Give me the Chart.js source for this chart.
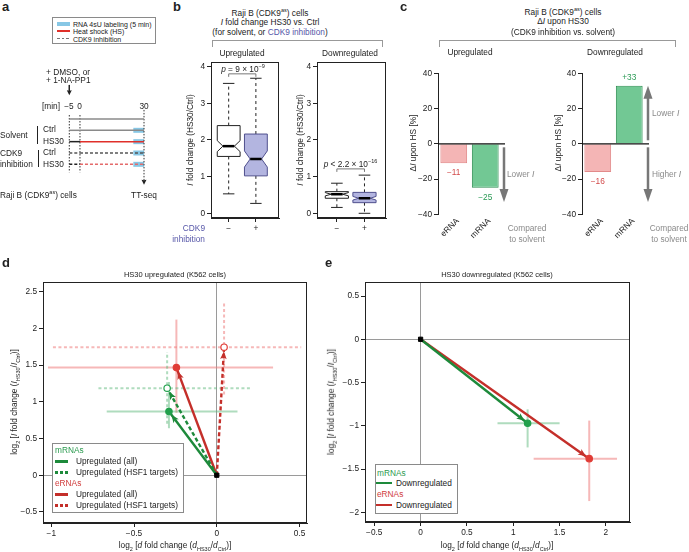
<!DOCTYPE html>
<html>
<head>
<meta charset="utf-8">
<title>HS30 CDK9 inhibition figure</title>
<script src="https://cdn.jsdelivr.net/npm/chart.js@4.4.1/dist/chart.umd.min.js"></script>
<style>
  html, body { margin: 0; padding: 0; background: #fff; }
  body { width: 689px; height: 552px; position: relative; overflow: hidden;
         font-family: "Liberation Sans", Arial, sans-serif; font-size: 8.3px; color: #222; }
  canvas { position: absolute; }
  .t { position: absolute; white-space: nowrap; line-height: 1; }
  .c { transform: translate(-50%, -50%); }
  .l { transform: translateY(-50%); }
  .r { transform: translate(-50%, -50%) rotate(-90deg); }
  .big { font-weight: bold; font-size: 13px; }
  .sm { font-size: 7.5px; }
  .xs { font-size: 7px; }
  .gray { color: #8a8a8a; }
  .blue { color: #5656a8; }
  .grn { color: #2a9a4e; }
  .red { color: #d03b3b; }
  sub, sup { font-size: 5.5px; line-height: 0; }
  .box { position: absolute; border: 1px solid #8a8a8a; background: #fff; }
  .brk { position: absolute; border: 1px solid #999; border-bottom: none; }
  .vbar { position: absolute; border-left: 1px solid #222; }
  .sw { position: absolute; }
</style>
</head>
<body>
<canvas id="cA" width="100" height="120" style="left:60px;top:75px"></canvas>
<canvas id="cB1" width="110" height="195" style="left:175px;top:55px"></canvas>
<canvas id="cB2" width="110" height="195" style="left:281px;top:55px"></canvas>
<canvas id="cC1" width="120" height="190" style="left:400px;top:60px"></canvas>
<canvas id="cC2" width="121" height="190" style="left:544px;top:60px"></canvas>
<canvas id="cD" width="320" height="290" style="left:0px;top:262px"></canvas>
<canvas id="cE" width="330" height="290" style="left:322px;top:262px"></canvas>

<!-- panel a -->
<div class="t big" style="left:2px;top:0px">a</div>
<div class="box" style="left:52px;top:17px;width:102px;height:25px"></div>
<div class="sw" style="left:57px;top:21.5px;width:13px;height:4px;background:rgba(95,180,220,0.75)"></div>
<div class="t l xs" style="left:73px;top:23.5px">RNA 4sU labeling (5 min)</div>
<div class="sw" style="left:57px;top:30.3px;width:13px;height:1.5px;background:#e0302a"></div>
<div class="t l xs" style="left:73px;top:31px">Heat shock (HS)</div>
<div class="sw" style="left:57px;top:37.8px;width:13px;height:1.2px;background:repeating-linear-gradient(to right,#777 0 2.5px,transparent 2.5px 4.5px)"></div>
<div class="t l xs" style="left:73px;top:38.5px">CDK9 inhibition</div>
<div class="t l" style="left:46px;top:72px">+ DMSO, or</div>
<div class="t l" style="left:46px;top:79.5px">+ 1-NA-PP1</div>
<div class="t l" style="left:42px;top:105.5px">[min]</div>
<div class="t c" style="left:69px;top:105.5px">−5</div>
<div class="t c" style="left:79.5px;top:105.5px">0</div>
<div class="t c" style="left:144px;top:105.5px">30</div>
<div class="t l" style="left:0px;top:135px">Solvent</div>
<div class="vbar" style="left:37px;top:126px;height:18px"></div>
<div class="t l" style="left:43px;top:129.3px">Ctrl</div>
<div class="t l" style="left:43px;top:140.7px">HS30</div>
<div class="t l" style="left:0px;top:152.5px">CDK9</div>
<div class="t l" style="left:0px;top:164px">inhibition</div>
<div class="vbar" style="left:37.5px;top:150px;height:17px"></div>
<div class="t l" style="left:43px;top:152.3px">Ctrl</div>
<div class="t l" style="left:43px;top:164.3px">HS30</div>
<div class="t l" style="left:0px;top:195px">Raji B (CDK9<sup>as</sup>) cells</div>
<div class="t c" style="left:144px;top:195px">TT-seq</div>

<!-- panel b -->
<div class="t big" style="left:173px;top:0px">b</div>
<div class="t c" style="left:270px;top:13px">Raji B (CDK9<sup>as</sup>) cells</div>
<div class="t c" style="left:270px;top:22.3px"><i>I</i> fold change HS30 vs. Ctrl</div>
<div class="t c" style="left:270px;top:31.5px">(for solvent, or <span class="blue">CDK9 inhibition</span>)</div>
<div class="brk" style="left:212px;top:40px;width:169px;height:6px"></div>
<div class="t c" style="left:242px;top:52.7px">Upregulated</div>
<div class="t c" style="left:350px;top:52.7px">Downregulated</div>
<div class="t r" style="left:190px;top:140px"><i>I</i> fold change (HS30/Ctrl)</div>
<div class="t r" style="left:300px;top:140px"><i>I</i> fold change (HS30/Ctrl)</div>
<div class="t c" style="left:243px;top:68.5px"><i>p</i> = 9 × 10<sup>−9</sup></div>
<div class="t c" style="left:350.5px;top:163.5px"><i>p</i> &lt; 2.2 × 10<sup>−16</sup></div>
<div class="t blue" style="left:205px;top:228px;transform:translate(-100%,-50%)">CDK9</div>
<div class="t blue" style="left:205px;top:238.5px;transform:translate(-100%,-50%)">inhibition</div>

<!-- panel c -->
<div class="t big" style="left:400px;top:0px">c</div>
<div class="t c" style="left:563px;top:12px">Raji B (CDK9<sup>as</sup>) cells</div>
<div class="t c" style="left:563px;top:21px">Δ<i>I</i> upon HS30</div>
<div class="t c" style="left:563px;top:31.5px">(CDK9 inhibition vs. solvent)</div>
<div class="brk" style="left:439px;top:40px;width:235px;height:6px"></div>
<div class="t c" style="left:470px;top:52.3px">Upregulated</div>
<div class="t c" style="left:615px;top:52.3px">Downregulated</div>
<div class="t r" style="left:413.3px;top:142.5px">Δ<i>I</i> upon HS [%]</div>
<div class="t r" style="left:558.3px;top:142.5px">Δ<i>I</i> upon HS [%]</div>
<div class="t l gray" style="left:507px;top:174px">Lower <i>I</i></div>
<div class="t c gray" style="left:527px;top:228px">Compared</div>
<div class="t c gray" style="left:527px;top:238.7px">to solvent</div>
<div class="t l gray" style="left:652px;top:112.5px">Lower <i>I</i></div>
<div class="t l gray" style="left:652px;top:174.3px">Higher <i>I</i></div>
<div class="t c gray" style="left:669px;top:228px">Compared</div>
<div class="t c gray" style="left:669px;top:238.7px">to solvent</div>

<!-- panel d -->
<div class="t big" style="left:2px;top:256px">d</div>
<div class="t c sm" style="left:175px;top:275px">HS30 upregulated (K562 cells)</div>
<div class="t c" style="left:175px;top:545px">log<sub>2</sub> [<i>d</i> fold change (<i>d</i><sub>HS30</sub>/<i>d</i><sub>Ctrl</sub>)]</div>
<div class="t r" style="left:14px;top:402px">log<sub>2</sub> [<i>I</i> fold change (<i>I</i><sub>HS30</sub>/<i>I</i><sub>Ctrl</sub>)]</div>
<div class="box" style="left:52px;top:443px;width:130px;height:68px"></div>
<div class="t l grn" style="left:55px;top:450px">mRNAs</div>
<div class="sw" style="left:55px;top:460px;width:13px;height:2.5px;background:#1d8a3b"></div>
<div class="t l" style="left:76px;top:461px">Upregulated (all)</div>
<div class="sw" style="left:55px;top:471px;width:13px;height:2.5px;background:repeating-linear-gradient(to right,#1d8a3b 0 3px,transparent 3px 5px)"></div>
<div class="t l" style="left:76px;top:472px">Upregulated (HSF1 targets)</div>
<div class="t l red" style="left:55px;top:483px">eRNAs</div>
<div class="sw" style="left:55px;top:493px;width:13px;height:2.5px;background:#c42f2a"></div>
<div class="t l" style="left:76px;top:494px">Upregulated (all)</div>
<div class="sw" style="left:55px;top:504px;width:13px;height:2.5px;background:repeating-linear-gradient(to right,#c42f2a 0 3px,transparent 3px 5px)"></div>
<div class="t l" style="left:76px;top:505px">Upregulated (HSF1 targets)</div>

<!-- panel e -->
<div class="t big" style="left:325px;top:256px">e</div>
<div class="t c sm" style="left:497px;top:275px">HS30 downregulated (K562 cells)</div>
<div class="t c" style="left:497px;top:545px">log<sub>2</sub> [<i>d</i> fold change (<i>d</i><sub>HS30</sub>/<i>d</i><sub>Ctrl</sub>)]</div>
<div class="t r" style="left:331px;top:402px">log<sub>2</sub> [<i>I</i> fold change (<i>I</i><sub>HS30</sub>/<i>I</i><sub>Ctrl</sub>)]</div>
<div class="box" style="left:375px;top:464px;width:81px;height:48px"></div>
<div class="t l grn" style="left:377px;top:472.5px">mRNAs</div>
<div class="sw" style="left:376px;top:481.5px;width:16px;height:2.5px;background:#1d8a3b"></div>
<div class="t l" style="left:396px;top:482.7px">Downregulated</div>
<div class="t l red" style="left:377px;top:494px">eRNAs</div>
<div class="sw" style="left:376px;top:503.8px;width:16px;height:2.5px;background:#c42f2a"></div>
<div class="t l" style="left:396px;top:505px">Downregulated</div>

<script>
// ---------- data ----------
// a: experimental scheme, time in minutes, rows top to bottom
const schemeTimes = [-5, 0, 30];
const labelWindow = [25, 30];
const schemeRows = [0, 1, 2, 3, 4];
const rowHeat = [false, false, true, false, true];
const rowInhib = [false, false, false, true, true];
const rowLabeled = [false, true, true, true, true];

// b: I fold change HS30/Ctrl  [solvent, CDK9 inhibition]
const boxGroups = ['−', '+'];
const boxTicks = [0, 1, 2, 3, 4];
const upMedian = [1.83, 1.48];
const upQ1 = [1.55, 1.02];
const upQ3 = [2.39, 2.16];
const upWhiskLo = [0.53, 0.27];
const upWhiskHi = [3.54, 3.68];
const upNotch = [0.15, 0.22];
const downMedian = [0.52, 0.41];
const downQ1 = [0.41, 0.29];
const downQ3 = [0.59, 0.57];
const downWhiskLo = [0.16, 0.0];
const downWhiskHi = [0.82, 1.04];
const downNotch = [0.045, 0.05];
const pBracketUp = 3.8;
const pBracketDown = 1.21;

// c: delta I upon HS [%]
const rnaTypes = ['eRNA', 'mRNA'];
const deltaUp = [-11, -25];
const deltaDown = [-16, 33];
const deltaTicks = [-40, -20, 0, 20, 40];

// d: HS30 upregulated, [mRNA all, mRNA HSF1, eRNA all, eRNA HSF1]
const upKind = ['m', 'm', 'e', 'e'];
const upDashed = [false, true, false, true];
const upDx = [-0.289, -0.30, -0.244, 0.044];
const upIy = [0.867, 1.185, 1.466, 1.744];
const upDxLo = [-0.665, -0.715, -1.02, -0.99];
const upDxHi = [0.125, 0.20, 0.34, 0.51];
const upIyLo = [0.64, 0.70, 0.85, 1.10];
const upIyHi = [1.27, 1.68, 2.12, 2.34];
const dTicksX = [-1, -0.5, 0, 0.5];
const dTicksY = [-0.5, 0, 0.5, 1, 1.5, 2, 2.5];

// e: HS30 downregulated, [mRNA, eRNA]
const downKind = ['m', 'e'];
const downDashed = [false, false];
const downDx = [1.155, 1.82];
const downIy = [-0.97, -1.38];
const downDxLo = [0.83, 1.22];
const downDxHi = [1.50, 2.12];
const downIyLo = [-1.25, -1.87];
const downIyHi = [-0.81, -0.94];
const eTicksX = [-0.5, 0, 0.5, 1, 1.5, 2];
const eTicksY = [-2, -1.5, -1, -0.5, 0, 0.5];

// ---------- styling ----------
Chart.defaults.font.family = '"Liberation Sans", Arial, sans-serif';
Chart.defaults.font.size = 8.3;
Chart.defaults.color = '#222';
Chart.defaults.animation = false;

const GREEN = { arrow: '#1d8a3b', dot: '#22a04c', err: 'rgba(95,185,125,0.5)' };
const RED = { arrow: '#c42f2a', dot: '#e03c36', err: 'rgba(238,125,125,0.55)' };
const fmt = v => String(v).replace('-', '−');
const noPlug = { legend: { display: false }, tooltip: { enabled: false } };

function head(ctx, x0, y0, x1, y1, len, half, back, color) {
  const L = Math.hypot(x1 - x0, y1 - y0);
  const ux = (x1 - x0) / L, uy = (y1 - y0) / L, nx = -uy, ny = ux;
  const bx = x1 - ux * len, by = y1 - uy * len;
  ctx.fillStyle = color;
  ctx.beginPath();
  ctx.moveTo(x1, y1);
  ctx.lineTo(bx + nx * half, by + ny * half);
  ctx.lineTo(x1 - ux * (len - back), y1 - uy * (len - back));
  ctx.lineTo(bx - nx * half, by - ny * half);
  ctx.closePath();
  ctx.fill();
}

const framePlugin = {
  id: 'frame',
  afterDatasetsDraw(chart) {
    const { ctx, chartArea: a } = chart;
    ctx.save();
    ctx.strokeStyle = '#222';
    ctx.lineWidth = 1;
    ctx.strokeRect(Math.round(a.left) + 0.5, Math.round(a.top) + 0.5,
      Math.round(a.width) - 1, Math.round(a.height) - 1);
    ctx.restore();
  }
};

function linAxis(min, max, ticks, size, horizontal, zero, labels) {
  return {
    type: 'linear', min, max,
    afterFit: s => { if (horizontal) s.height = size; else s.width = size; },
    afterBuildTicks: s => { s.ticks = ticks.map(v => ({ value: v })); },
    grid: {
      drawOnChartArea: !!zero,
      color: c => (zero && c.tick && c.tick.value === 0) ? '#9a9a9a' : 'rgba(0,0,0,0)',
      tickColor: '#222', tickLength: 4, lineWidth: 1
    },
    border: { display: true, color: '#222' },
    ticks: {
      callback: (v, i) => labels ? labels[i] : fmt(v),
      padding: 2, color: '#222', maxRotation: 0, autoSkip: false
    }
  };
}

// ---------- a: scheme ----------
(function () {
  const sets = [];
  schemeRows.forEach((r, i) => {
    if (rowLabeled[i]) {
      sets.push({ data: [{ x: labelWindow[0], y: r }, { x: labelWindow[1], y: r }],
        borderColor: 'rgba(95,180,220,0.75)', borderWidth: 5, order: 5 });
    }
    const dash = rowInhib[i] ? [3, 2] : [];
    sets.push({ data: [{ x: schemeTimes[0], y: r }, { x: schemeTimes[1], y: r }],
      borderColor: rowHeat[i] ? '#222' : (rowInhib[i] ? '#555' : '#8a8a8a'),
      borderWidth: 1.5, borderDash: dash, order: 1 });
    sets.push({ data: [{ x: schemeTimes[1], y: r }, { x: schemeTimes[2], y: r }],
      borderColor: rowHeat[i] ? (rowInhib[i] ? '#e46a6a' : '#e0302a') : (rowInhib[i] ? '#555' : '#8a8a8a'),
      borderWidth: 1.5, borderDash: dash, order: 1 });
  });
  // vertical guides at -5 and 0, TT-seq arrow at 30, treatment arrow at -5
  [schemeTimes[0], schemeTimes[1]].forEach(t => {
    sets.push({ data: [{ x: t, y: -0.35 }, { x: t, y: 4.7 }],
      borderColor: '#333', borderWidth: 1, borderDash: [1.5, 1.5], order: 2 });
  });
  const arrows = [
    [schemeTimes[2], -0.8, schemeTimes[2], 5.8],
    [schemeTimes[0], -3.0, schemeTimes[0], -2.1]
  ];
  sets.push({ data: [{ x: arrows[0][0], y: arrows[0][1] }, { x: arrows[0][2], y: arrows[0][3] - 0.3 }],
    borderColor: '#333', borderWidth: 1, borderDash: [1.5, 1.5], order: 2 });
  sets.push({ data: [{ x: arrows[1][0], y: arrows[1][1] }, { x: arrows[1][2], y: arrows[1][3] - 0.3 }],
    borderColor: '#222', borderWidth: 1, order: 2 });
  sets.forEach(s => { s.pointRadius = 0; s.showLine = true; s.borderCapStyle = 'butt'; s.clip = false; });

  new Chart(document.getElementById('cA'), {
    type: 'scatter',
    data: { datasets: sets },
    options: {
      responsive: false,
      layout: { padding: { left: 9.3, right: 16, top: 4.3, bottom: 8 } },
      scales: {
        x: { type: 'linear', min: -5, max: 30, display: false },
        y: { type: 'linear', min: -3.5, max: 6, reverse: true, display: false }
      },
      plugins: noPlug
    },
    plugins: [{
      id: 'schemeHeads',
      afterDatasetsDraw(chart) {
        const { ctx } = chart, xs = chart.scales.x, ys = chart.scales.y;
        ctx.save();
        arrows.forEach(a => head(ctx, xs.getPixelForValue(a[0]), ys.getPixelForValue(a[1]),
          xs.getPixelForValue(a[2]), ys.getPixelForValue(a[3]), 5, 2.5, 0.5, '#222'));
        ctx.restore();
      }
    }]
  });
})();

// ---------- b: notched box plots ----------
function boxChart(id, st, bracketY, xMin, xMax, padR) {
  const fills = ['#ffffff', '#b3b5e0'];
  const strokes = ['#222', '#50508e'];
  new Chart(document.getElementById(id), {
    type: 'scatter',
    data: { datasets: [{ data: st.med.map((m, i) => ({ x: i + 1, y: m })), pointRadius: 0 }] },
    options: {
      responsive: false,
      layout: { padding: { top: 7, right: padR } },
      scales: {
        x: linAxis(xMin, xMax, [1, 2], 32, true, false, boxGroups),
        y: linAxis(-0.128, 4.123, boxTicks, 36, false, false)
      },
      plugins: noPlug
    },
    plugins: [framePlugin, {
      id: 'boxes',
      afterDatasetsDraw(chart) {
        const { ctx } = chart, xs = chart.scales.x, ys = chart.scales.y;
        ctx.save();
        st.med.forEach((m, i) => {
          const cx = xs.getPixelForValue(i + 1);
          const hw = xs.getPixelForValue(i + 1 + 0.42) - cx;
          const y = v => ys.getPixelForValue(v);
          const yq1 = y(st.q1[i]), yq3 = y(st.q3[i]), ym = y(m);
          const ynh = y(m + st.notch[i]), ynl = y(m - st.notch[i]);
          // whiskers
          ctx.strokeStyle = '#222';
          ctx.lineWidth = 1;
          ctx.setLineDash([3, 3]);
          ctx.beginPath();
          ctx.moveTo(cx, yq3); ctx.lineTo(cx, y(st.hi[i]));
          ctx.moveTo(cx, yq1); ctx.lineTo(cx, y(st.lo[i]));
          ctx.stroke();
          ctx.setLineDash([]);
          ctx.beginPath();
          ctx.moveTo(cx - hw / 2, y(st.hi[i])); ctx.lineTo(cx + hw / 2, y(st.hi[i]));
          ctx.moveTo(cx - hw / 2, y(st.lo[i])); ctx.lineTo(cx + hw / 2, y(st.lo[i]));
          ctx.stroke();
          // notched box
          ctx.beginPath();
          ctx.moveTo(cx - hw, yq3); ctx.lineTo(cx + hw, yq3); ctx.lineTo(cx + hw, ynh);
          ctx.lineTo(cx + hw / 2, ym); ctx.lineTo(cx + hw, ynl); ctx.lineTo(cx + hw, yq1);
          ctx.lineTo(cx - hw, yq1); ctx.lineTo(cx - hw, ynl); ctx.lineTo(cx - hw / 2, ym);
          ctx.lineTo(cx - hw, ynh); ctx.closePath();
          ctx.fillStyle = fills[i];
          ctx.fill();
          ctx.strokeStyle = strokes[i];
          ctx.stroke();
          // median
          ctx.strokeStyle = '#000';
          ctx.lineWidth = 2.5;
          ctx.beginPath();
          ctx.moveTo(cx - hw / 2, ym); ctx.lineTo(cx + hw / 2, ym);
          ctx.stroke();
        });
        // significance bracket
        const x1 = xs.getPixelForValue(1), x2 = xs.getPixelForValue(2), yb = ys.getPixelForValue(bracketY);
        ctx.strokeStyle = '#777';
        ctx.lineWidth = 1;
        ctx.beginPath();
        ctx.moveTo(x1, yb + 3); ctx.lineTo(x1, yb); ctx.lineTo(x2, yb); ctx.lineTo(x2, yb + 3);
        ctx.stroke();
        ctx.restore();
      }
    }]
  });
}
boxChart('cB1', { med: upMedian, q1: upQ1, q3: upQ3, lo: upWhiskLo, hi: upWhiskHi, notch: upNotch },
  pBracketUp, 0.35, 2.85, 6);
boxChart('cB2', { med: downMedian, q1: downQ1, q3: downQ3, lo: downWhiskLo, hi: downWhiskHi, notch: downNotch },
  pBracketDown, 0.28, 2.78, 5);

// ---------- c: bar charts ----------
function deltaChart(id, values, arrows, yWidth, padR) {
  const labelColors = ['#d24a4a', '#2a9a55'];
  new Chart(document.getElementById(id), {
    type: 'bar',
    data: {
      labels: rnaTypes,
      datasets: [{
        data: values,
        backgroundColor: ['rgba(240,150,150,0.7)', '#72c894'],
        borderColor: ['#e28a8a', '#2e8f52'],
        borderWidth: 1,
        barPercentage: 0.85,
        categoryPercentage: 1
      }]
    },
    options: {
      responsive: false,
      layout: { padding: { top: 13.3, right: padR } },
      scales: {
        x: {
          afterFit: s => { s.height = 35.7; },
          grid: { display: false, drawTicks: false },
          border: { display: false },
          ticks: { minRotation: 45, maxRotation: 45, padding: 2, color: '#222', labelOffset: 4 }
        },
        y: {
          min: -40, max: 40,
          afterFit: s => { s.width = yWidth; },
          afterBuildTicks: s => { s.ticks = deltaTicks.map(v => ({ value: v })); },
          grid: { drawOnChartArea: false, tickLength: 4, tickColor: '#222' },
          border: { display: true, color: '#222' },
          ticks: { callback: v => fmt(v), padding: 2, color: '#222' }
        }
      },
      plugins: noPlug
    },
    plugins: [{
      id: 'deltaExtras',
      afterDatasetsDraw(chart) {
        const { ctx, chartArea: a } = chart, ys = chart.scales.y;
        const y0 = ys.getPixelForValue(0);
        const ax = a.right + 3;
        ctx.save();
        ctx.strokeStyle = '#111';
        ctx.lineWidth = 1.2;
        ctx.beginPath(); ctx.moveTo(a.left, y0); ctx.lineTo(ax + 1, y0); ctx.stroke();
        ctx.font = '8.3px "Liberation Sans", Arial, sans-serif';
        ctx.textAlign = 'center';
        ctx.textBaseline = 'middle';
        chart.getDatasetMeta(0).data.forEach((bar, i) => {
          const v = values[i];
          ctx.fillStyle = labelColors[i];
          ctx.fillText((v > 0 ? '+' : '−') + Math.abs(v), bar.x, bar.y + (v < 0 ? 9.5 : -7.5));
        });
        arrows.forEach(([from, to]) => {
          const ya = ys.getPixelForValue(from), yb = ys.getPixelForValue(to);
          const dir = Math.sign(yb - ya);
          ctx.strokeStyle = '#777';
          ctx.lineWidth = 2.5;
          ctx.beginPath(); ctx.moveTo(ax, ya); ctx.lineTo(ax, yb - dir * 10); ctx.stroke();
          head(ctx, ax, ya, ax, yb, 13, 4.5, 0, '#777');
        });
        ctx.restore();
      }
    }]
  });
}
deltaChart('cC1', deltaUp, [[-2, -33]], 38, 19);
deltaChart('cC2', deltaDown, [[2, 33], [-2, -33]], 38, 20);

// ---------- d, e: vector plots ----------
function vectorChart(id, s, xr, yr, tx, ty, yWidth, xHeight, padR) {
  const sets = [];
  s.x.forEach((x, i) => {
    const col = s.kind[i] === 'm' ? GREEN : RED;
    const dash = s.dashed[i] ? [3, 2.5] : [];
    sets.push({ data: [{ x: s.xLo[i], y: s.y[i] }, { x: s.xHi[i], y: s.y[i] }],
      borderColor: col.err, borderWidth: 2, borderDash: dash, pointRadius: 0, showLine: true, order: 3 });
    sets.push({ data: [{ x: x, y: s.yLo[i] }, { x: x, y: s.yHi[i] }],
      borderColor: col.err, borderWidth: 2, borderDash: dash, pointRadius: 0, showLine: true, order: 3 });
    sets.push({ data: [{ x: 0, y: 0 }, { x: x, y: s.y[i] }],
      borderColor: col.arrow, borderWidth: 2.4, borderDash: s.dashed[i] ? [4, 2.5] : [],
      showLine: true, pointRadius: [0, 3.2],
      pointBackgroundColor: s.dashed[i] ? '#fff' : col.dot, pointBorderColor: col.dot,
      pointBorderWidth: 1.2, order: 2 });
  });
  sets.push({ data: [{ x: 0, y: 0 }], pointStyle: 'rect', pointRadius: 3,
    backgroundColor: '#000', borderColor: '#000', order: 0 });

  new Chart(document.getElementById(id), {
    type: 'scatter',
    data: { datasets: sets },
    options: {
      responsive: false,
      layout: { padding: { top: 20, right: padR } },
      scales: {
        x: linAxis(xr[0], xr[1], tx, xHeight, true, true),
        y: linAxis(yr[0], yr[1], ty, yWidth, false, true)
      },
      plugins: noPlug
    },
    plugins: [framePlugin, {
      id: 'vectorHeads',
      afterDatasetsDraw(chart) {
        const { ctx } = chart, xs = chart.scales.x, ys = chart.scales.y;
        ctx.save();
        s.x.forEach((x, i) => {
          const col = s.kind[i] === 'm' ? GREEN : RED;
          const x0 = xs.getPixelForValue(0), y0 = ys.getPixelForValue(0);
          const x1 = xs.getPixelForValue(x), y1 = ys.getPixelForValue(s.y[i]);
          const L = Math.hypot(x1 - x0, y1 - y0);
          const tx1 = x1 - (x1 - x0) / L * 4, ty1 = y1 - (y1 - y0) / L * 4;
          head(ctx, x0, y0, tx1, ty1, 8, 3.3, 2, col.arrow);
        });
        ctx.restore();
      }
    }]
  });
}
vectorChart('cD',
  { kind: upKind, dashed: upDashed, x: upDx, y: upIy, xLo: upDxLo, xHi: upDxHi, yLo: upIyLo, yHi: upIyHi },
  [-1.05, 0.545], [-0.651, 2.632], dTicksX, dTicksY, 43, 29, 13);
vectorChart('cE',
  { kind: downKind, dashed: downDashed, x: downDx, y: downIy, xLo: downDxLo, xHi: downDxHi, yLo: downIyLo, yHi: downIyHi },
  [-0.60, 2.26], [-2.112, 0.662], eTicksX, eTicksY, 43, 30, 22);
</script>
</body>
</html>
